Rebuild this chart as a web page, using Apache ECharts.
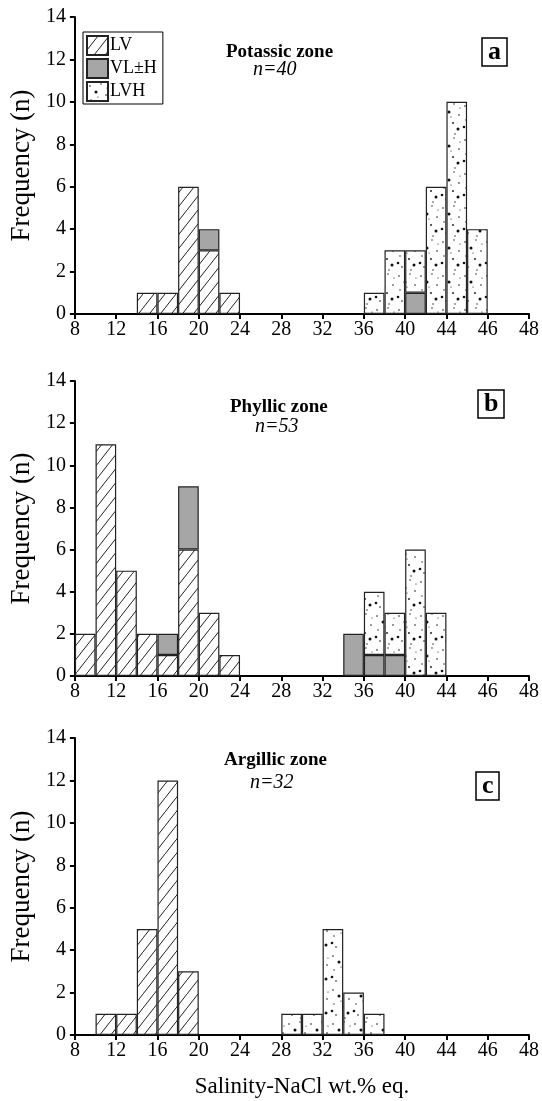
<!DOCTYPE html>
<html>
<head>
<meta charset="utf-8">
<script src="https://cdn.jsdelivr.net/npm/echarts@6/dist/echarts.min.js"></script>
<style>
html,body{margin:0;padding:0;background:#fff;}
#main{width:542px;height:1101px;}
</style>
</head>
<body>
<div id="main"></div>
<script>
// ---- Data ----
// Bin start values (each bin is 2 wt.% wide) on the linear salinity scale
var binStarts = [8,10,12,14,16,18,20,22,24,26,28,30,32,34,36,38,40,42,44,46,48,50];
// Tick values on the scale and the labels printed in the original figure
var xTickValues = [8,12,16,20,24,28,32,36,40,44,48,52];
var xTickLabels = ['8','12','16','20','24','28','32','36','40','44','46','48'];
var yTickLabels = ['0','2','4','6','8','10','12','14'];
var seriesNames = ['LV','VL\u00b1H','LVH'];

// Potassic zone (n=40)
var potassicLV  = [0,0,0,1,1,6,3,1,0,0,0,0,0,0,0,0,0,0,0,0,0,0];
var potassicVLH = [0,0,0,0,0,0,1,0,0,0,0,0,0,0,0,0,1,0,0,0,0,0];
var potassicLVH = [0,0,0,0,0,0,0,0,0,0,0,0,0,0,1,3,2,6,10,4,0,0];
// Phyllic zone (n=53)
var phyllicLV   = [2,11,5,2,1,6,3,1,0,0,0,0,0,0,0,0,0,0,0,0,0,0];
var phyllicVLH  = [0,0,0,0,1,3,0,0,0,0,0,0,0,2,1,1,0,0,0,0,0,0];
var phyllicLVH  = [0,0,0,0,0,0,0,0,0,0,0,0,0,0,3,2,6,3,0,0,0,0];
// Argillic zone (n=32)
var argillicLV  = [0,1,1,5,12,3,0,0,0,0,0,0,0,0,0,0,0,0,0,0,0,0];
var argillicVLH = [0,0,0,0,0,0,0,0,0,0,0,0,0,0,0,0,0,0,0,0,0,0];
var argillicLVH = [0,0,0,0,0,0,0,0,0,0,1,1,5,2,1,0,0,0,0,0,0,0];

var panelTitles = ['Potassic zone','Phyllic zone','Argillic zone'];
var panelCounts = ['n=40','n=53','n=32'];
var panelLetters = ['a','b','c'];
var xAxisTitle = 'Salinity-NaCl wt.% eq.';
var yAxisTitle = 'Frequency (n)';

// ---- Fill patterns ----
function hatchPattern(){
  var c = document.createElement('canvas');
  var w = 11, h = 14;
  c.width = w; c.height = h;
  var g = c.getContext('2d');
  g.fillStyle = '#fff'; g.fillRect(0,0,w,h);
  g.strokeStyle = '#222'; g.lineWidth = 1;
  g.beginPath(); g.moveTo(-w, 2*h); g.lineTo(2*w, -h); g.stroke();
  return c;
}
function dotPattern(){
  var c = document.createElement('canvas');
  var w = 22, h = 34;
  c.width = w; c.height = h;
  var g = c.getContext('2d');
  g.fillStyle = '#fff'; g.fillRect(0,0,w,h);
  g.fillStyle = '#111';
  var dots = [[3,4,0.8],[14,2,0.7],[9,10,1.5],[19,13,0.8],[4,18,0.7],[13,21,0.9],[18,27,1.5],[6,29,0.8],[15,32,0.7],[2,25,1.3],[11,15,0.6],[20,6,0.6]];
  dots.forEach(function(d){ g.beginPath(); g.arc(d[0],d[1],d[2],0,Math.PI*2); g.fill(); });
  return c;
}
var fills = [
  {image: hatchPattern(), repeat: 'repeat'},
  '#a6a6a6',
  {image: dotPattern(), repeat: 'repeat'}
];

var FONT = 'Liberation Serif';
var panels = [
  {top: 17, height: 297, data: [potassicLV, potassicVLH, potassicLVH]},
  {top: 381, height: 295, data: [phyllicLV, phyllicVLH, phyllicLVH]},
  {top: 738, height: 297, data: [argillicLV, argillicVLH, argillicLVH]}
];
var titlePos = [
  {t:[226,43], n:[253,60], l:[482,40]},
  {t:[230,398], n:[255,417], l:[478,392]},
  {t:[224,751], n:[250,773], l:[476,774]}
];

var grids = [], xAxes = [], yAxes = [], series = [], titles = [];
panels.forEach(function(p, i){
  grids.push({left: 71, right: 12, top: p.top, height: p.height});
  // linear salinity axis for ticks & labels
  xAxes.push({
    type: 'value', gridIndex: i, min: 8, max: 52, interval: 4,
    axisLine: {show: true, lineStyle: {color: '#000', width: 2}},
    axisTick: {show: true, length: 5, lineStyle: {color: '#000', width: 2}},
    splitLine: {show: false},
    axisLabel: {
      color: '#000', fontFamily: FONT, fontSize: 20, margin: 6,
      formatter: function(v){ var k = xTickValues.indexOf(v); return k >= 0 ? xTickLabels[k] : ''; }
    },
    name: i === 2 ? xAxisTitle : '',
    nameLocation: 'middle', nameGap: 40,
    nameTextStyle: {color: '#000', fontFamily: FONT, fontSize: 23}
  });
  yAxes.push({
    type: 'value', gridIndex: i, min: 0, max: 14, interval: 2,
    axisLine: {show: true, lineStyle: {color: '#000', width: 2}},
    axisTick: {show: true, length: 5, lineStyle: {color: '#000', width: 2}},
    splitLine: {show: false},
    axisLabel: {color: '#000', fontFamily: FONT, fontSize: 20, margin: 9,
      formatter: function(v){ return yTickLabels[v/2]; }},
    name: yAxisTitle, nameLocation: 'middle', nameRotate: 90, nameGap: 37,
    nameTextStyle: {color: '#000', fontFamily: FONT, fontSize: 27}
  });
});
// hidden category axes for the bins
panels.forEach(function(p, i){
  xAxes.push({
    type: 'category', gridIndex: i, data: binStarts.map(String),
    boundaryGap: true, show: false
  });
});
panels.forEach(function(p, i){
  p.data.forEach(function(arr, s){
    series.push({
      name: seriesNames[s], type: 'bar', stack: 'panel' + i,
      xAxisIndex: 3 + i, yAxisIndex: i,
      barCategoryGap: '0%', barGap: '0%',
      itemStyle: {color: fills[s], borderColor: '#222', borderWidth: 1.2},
      emphasis: {disabled: true},
      data: arr.map(function(v){ return v > 0 ? v : '-'; })
    });
  });
  var tp = titlePos[i];
  titles.push({text: panelTitles[i], left: tp.t[0], top: tp.t[1], padding: 0,
    textStyle: {fontFamily: FONT, fontSize: 19, fontWeight: 'bold', color: '#000'}});
  titles.push({text: panelCounts[i], left: tp.n[0], top: tp.n[1], padding: 0,
    textStyle: {fontFamily: FONT, fontSize: 20, fontStyle: 'italic', fontWeight: 'normal', color: '#000'}});
  titles.push({text: panelLetters[i], left: tp.l[0], top: tp.l[1], padding: [1,6,1,6],
    borderColor: '#000', borderWidth: 1.5,
    textStyle: {fontFamily: FONT, fontSize: 26, fontWeight: 'bold', color: '#000', lineHeight: 22}});
});

var chart = echarts.init(document.getElementById('main'), null, {renderer: 'canvas'});
chart.setOption({
  animation: false,
  backgroundColor: '#fff',
  title: titles,
  legend: {
    data: seriesNames, orient: 'vertical', left: 83, top: 32,
    borderColor: '#000', borderWidth: 1, padding: [3, 6, 2, 3],
    itemWidth: 21, itemHeight: 19, itemGap: 2, icon: 'rect',
    selectedMode: false,
    textStyle: {fontFamily: FONT, fontSize: 18, color: '#000', padding: [0,0,0,-3]}
  },
  grid: grids,
  xAxis: xAxes,
  yAxis: yAxes,
  series: series
});
</script>
</body>
</html>
